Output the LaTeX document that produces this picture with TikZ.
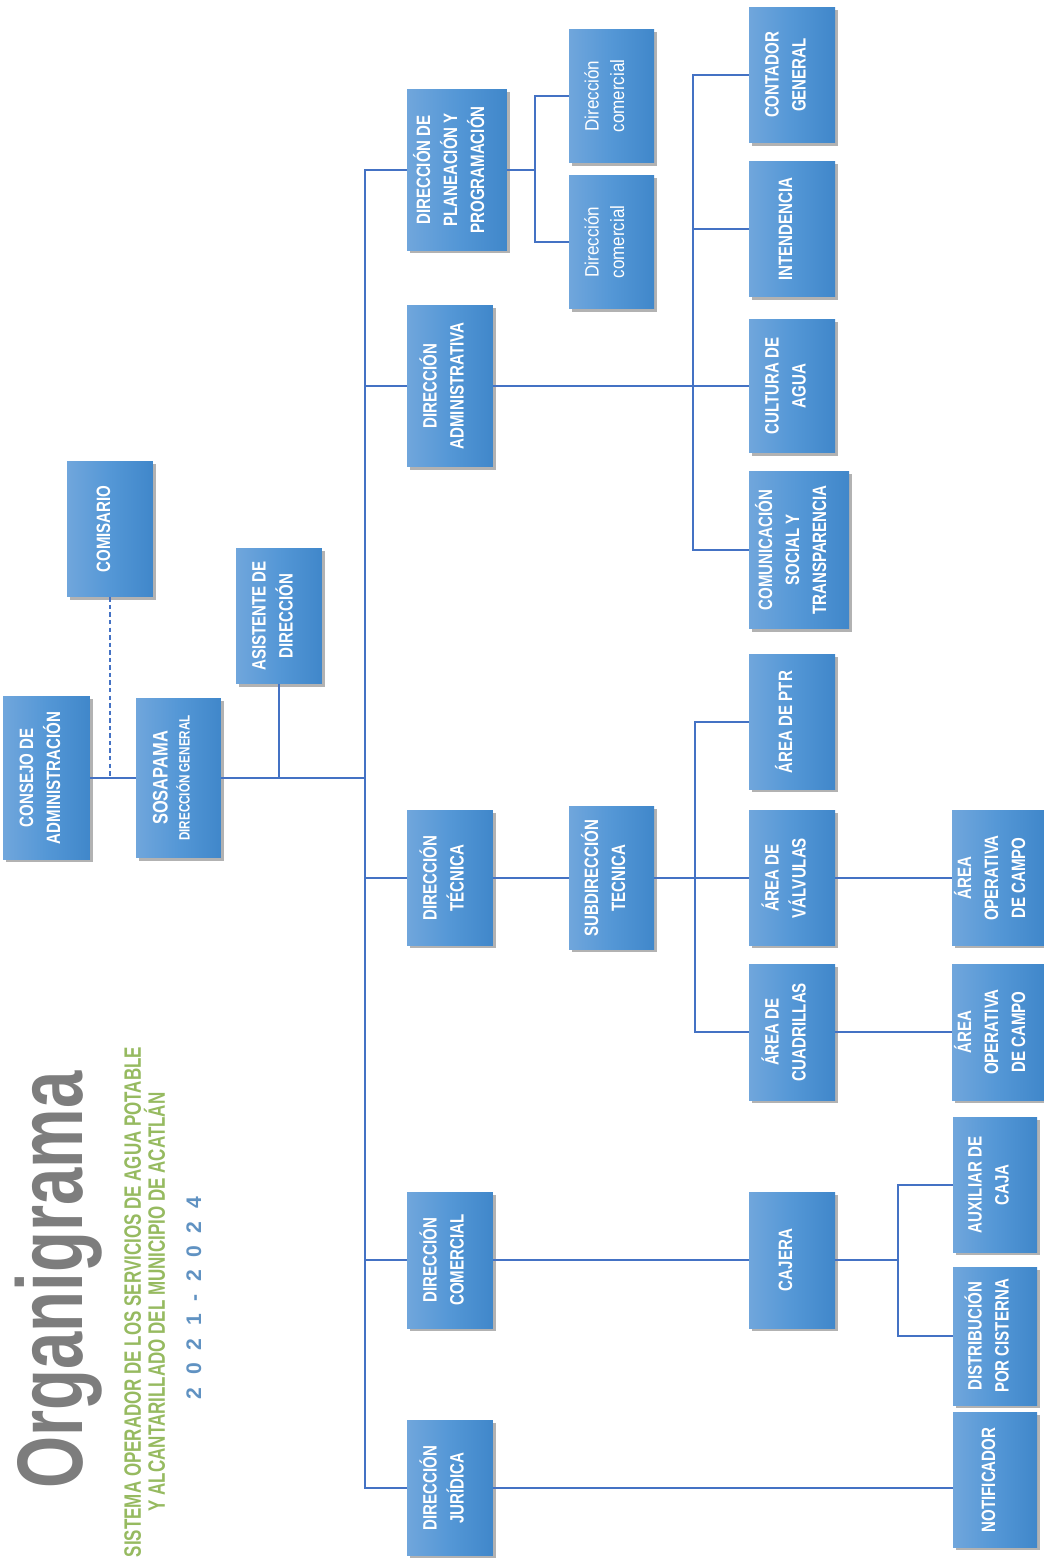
\documentclass[tikz,border=0pt]{standalone}
\usepackage{fontspec}
\usepackage{graphicx}
\usetikzlibrary{shadows}
\newfontfamily\bxfont[FakeStretch=0.78]{Liberation Sans}
\newfontfamily\dcfont[FakeStretch=0.88]{Liberation Sans}
\newfontfamily\ttlfont[FakeStretch=0.72]{Liberation Sans}
\newfontfamily\subfont[FakeStretch=0.715]{Liberation Sans}
\newfontfamily\yrfont{Liberation Sans}
\definecolor{lnblue}{HTML}{4472C4}
\definecolor{bxl}{RGB}{112,166,220}
\definecolor{bxm}{RGB}{84,151,214}
\definecolor{bxr}{RGB}{64,135,202}
\definecolor{ttlgray}{RGB}{125,125,125}
\definecolor{subgreen}{RGB}{150,186,96}
\definecolor{yrblue}{RGB}{96,146,194}
\newcommand\vt[1]{\rotatebox{90}{\begin{tabular}{@{}c@{}}#1\end{tabular}}\hspace*{6pt}}
\newcommand\yg{\hspace{7.2pt}}
\tikzset{
  ob/.style={draw=none, left color=bxl, right color=bxr, middle color=bxm,
    inner sep=0pt, text=white,
    font=\bxfont\bfseries\fontsize{11pt}{15.4pt}\selectfont,
    drop shadow={shadow xshift=1.6pt, shadow yshift=-1.6pt, opacity=0.3, fill=black}},
  sz/.style 2 args={minimum width=#1, minimum height=#2},
  dcf/.style={font=\dcfont\fontsize{11pt}{14.5pt}\selectfont},
  ln/.style={draw=lnblue, line width=1.6pt},
}
\begin{document}
\begin{tikzpicture}[x=0.02cm, y=-0.02cm]
\useasboundingbox (0,0) rectangle (1044,1558);
\fill[white] (0,0) rectangle (1044,1558);

% title block
\node[rotate=90, anchor=base, inner sep=0pt, text=ttlgray,
  font=\ttlfont\bfseries\fontsize{53pt}{53pt}\selectfont] (ttl) at (82,1280) {Organigrama};
\node[rotate=90, anchor=north, inner sep=0pt, align=center, text=subgreen,
  font=\subfont\bfseries\fontsize{13.5pt}{13.7pt}\selectfont] (stl) at (124,1302)
  {SISTEMA OPERADOR DE LOS SERVICIOS DE AGUA POTABLE\\Y ALCANTARILLADO DEL MUNICIPIO DE ACATLÁN};
\node[rotate=90, anchor=north, inner sep=0pt, text=yrblue,
  font=\yrfont\bfseries\fontsize{12pt}{12pt}\selectfont] (yrs) at (186,1298)
  {2\yg 0\yg 2\yg 1\yg -\yg 2\yg 0\yg 2\yg 4};

% boxes
\node[ob, sz={1.74cm}{3.26cm}] (cons) at (46.5,778) {\vt{CONSEJO DE\\ADMINISTRACIÓN}};
\node[ob, sz={1.70cm}{3.20cm}] (sosa) at (178.5,778) {\rotatebox{90}{\begin{tabular}{@{}c@{}}{\fontsize{12pt}{12pt}\selectfont SOSAPAMA}\\[-3pt]{\fontsize{8.5pt}{10pt}\selectfont DIRECCIÓN GENERAL}\end{tabular}}\hspace*{6pt}};
\node[ob, sz={1.72cm}{2.72cm}] (comi) at (110,529) {\vt{COMISARIO}};
\node[ob, sz={1.72cm}{2.72cm}] (asis) at (279,616) {\vt{ASISTENTE DE\\DIRECCIÓN}};
\node[ob, sz={2.0cm}{3.22cm}] (plan) at (457,170) {\vt{DIRECCIÓN DE\\PLANEACIÓN Y\\PROGRAMACIÓN}};
\node[ob, dcf, sz={1.70cm}{2.68cm}] (dc1) at (611.5,96) {\vt{Dirección\\comercial}};
\node[ob, dcf, sz={1.70cm}{2.68cm}] (dc2) at (611.5,242) {\vt{Dirección\\comercial}};
\node[ob, sz={1.72cm}{3.24cm}] (adm) at (450,386) {\vt{DIRECCIÓN\\ADMINISTRATIVA}};
\node[ob, sz={1.72cm}{2.72cm}] (cont) at (792,75) {\vt{CONTADOR\\GENERAL}};
\node[ob, sz={1.72cm}{2.72cm}] (inte) at (792,229) {\vt{INTENDENCIA}};
\node[ob, sz={1.72cm}{2.68cm}] (cult) at (792,386) {\vt{CULTURA DE\\AGUA}};
\node[ob, sz={2.0cm}{3.16cm}] (comu) at (799,550) {\vt{COMUNICACIÓN\\SOCIAL Y\\TRANSPARENCIA}};
\node[ob, sz={1.72cm}{2.70cm}] (ptr) at (792,722) {\vt{ÁREA DE PTR}};
\node[ob, sz={1.72cm}{2.70cm}] (tec) at (450,878) {\vt{DIRECCIÓN\\TÉCNICA}};
\node[ob, sz={1.70cm}{2.86cm}] (subd) at (611.5,878) {\vt{SUBDIRECCIÓN\\TECNICA}};
\node[ob, sz={1.72cm}{2.70cm}] (valv) at (792,878) {\vt{ÁREA DE\\VÁLVULAS}};
\node[ob, sz={1.80cm}{2.70cm}] (op1) at (998,878) {\vt{ÁREA\\OPERATIVA\\DE CAMPO}};
\node[ob, sz={1.72cm}{2.72cm}] (cuad) at (792,1032) {\vt{ÁREA DE\\CUADRILLAS}};
\node[ob, sz={1.80cm}{2.72cm}] (op2) at (998,1032) {\vt{ÁREA\\OPERATIVA\\DE CAMPO}};
\node[ob, sz={1.72cm}{2.72cm}] (dcom) at (450,1260) {\vt{DIRECCIÓN\\COMERCIAL}};
\node[ob, sz={1.72cm}{2.72cm}] (caj) at (792,1260) {\vt{CAJERA}};
\node[ob, sz={1.68cm}{2.70cm}] (aux) at (995,1185) {\vt{AUXILIAR DE\\CAJA}};
\node[ob, sz={1.68cm}{2.76cm}] (dist) at (995,1336) {\vt{DISTRIBUCIÓN\\POR CISTERNA}};
\node[ob, sz={1.72cm}{2.70cm}] (jur) at (450,1488) {\vt{DIRECCIÓN\\JURÍDICA}};
\node[ob, sz={1.68cm}{2.70cm}] (noti) at (995,1480) {\vt{NOTIFICADOR}};

% connectors
\coordinate (sp) at (365,778);
\draw[ln] (cons.east) -- (sosa.west);
\draw[ln, line width=1.2pt, dash pattern=on 2.5pt off 1.8pt] (comi.south) -- (comi.south |- cons.east);
\draw[ln] (sosa.east) -- (sp);
\draw[ln] (asis.south) -- (asis.south |- sp);
\draw[ln] (plan.west) -- (sp |- plan.west) -- (sp |- jur.west) -- (jur.west);
\draw[ln] (sp |- adm.west) -- (adm.west);
\draw[ln] (sp |- tec.west) -- (tec.west);
\draw[ln] (sp |- dcom.west) -- (dcom.west);

\coordinate (pj) at (535,170);
\draw[ln] (plan.east) -- (pj);
\draw[ln] (dc1.west) -- (pj |- dc1.west) -- (pj |- dc2.west) -- (dc2.west);

\coordinate (aj) at (693,386);
\draw[ln] (adm.east) -- (cult.west);
\draw[ln] (cont.west) -- (aj |- cont.west) -- (aj |- comu.west) -- (comu.west);
\draw[ln] (aj |- inte.west) -- (inte.west);

\coordinate (tj) at (695,878);
\draw[ln] (tec.east) -- (subd.west);
\draw[ln] (subd.east) -- (valv.west);
\draw[ln] (ptr.west) -- (tj |- ptr.west) -- (tj |- cuad.west) -- (cuad.west);
\draw[ln] (valv.east) -- (op1.west);
\draw[ln] (cuad.east) -- (op2.west);

\coordinate (cj) at (898,1260);
\draw[ln] (dcom.east) -- (caj.west);
\draw[ln] (caj.east) -- (cj);
\draw[ln] (aux.west) -- (cj |- aux.west) -- (cj |- dist.west) -- (dist.west);

\draw[ln] (jur.east) -- (jur.east -| noti.west);
\end{tikzpicture}
\end{document}
